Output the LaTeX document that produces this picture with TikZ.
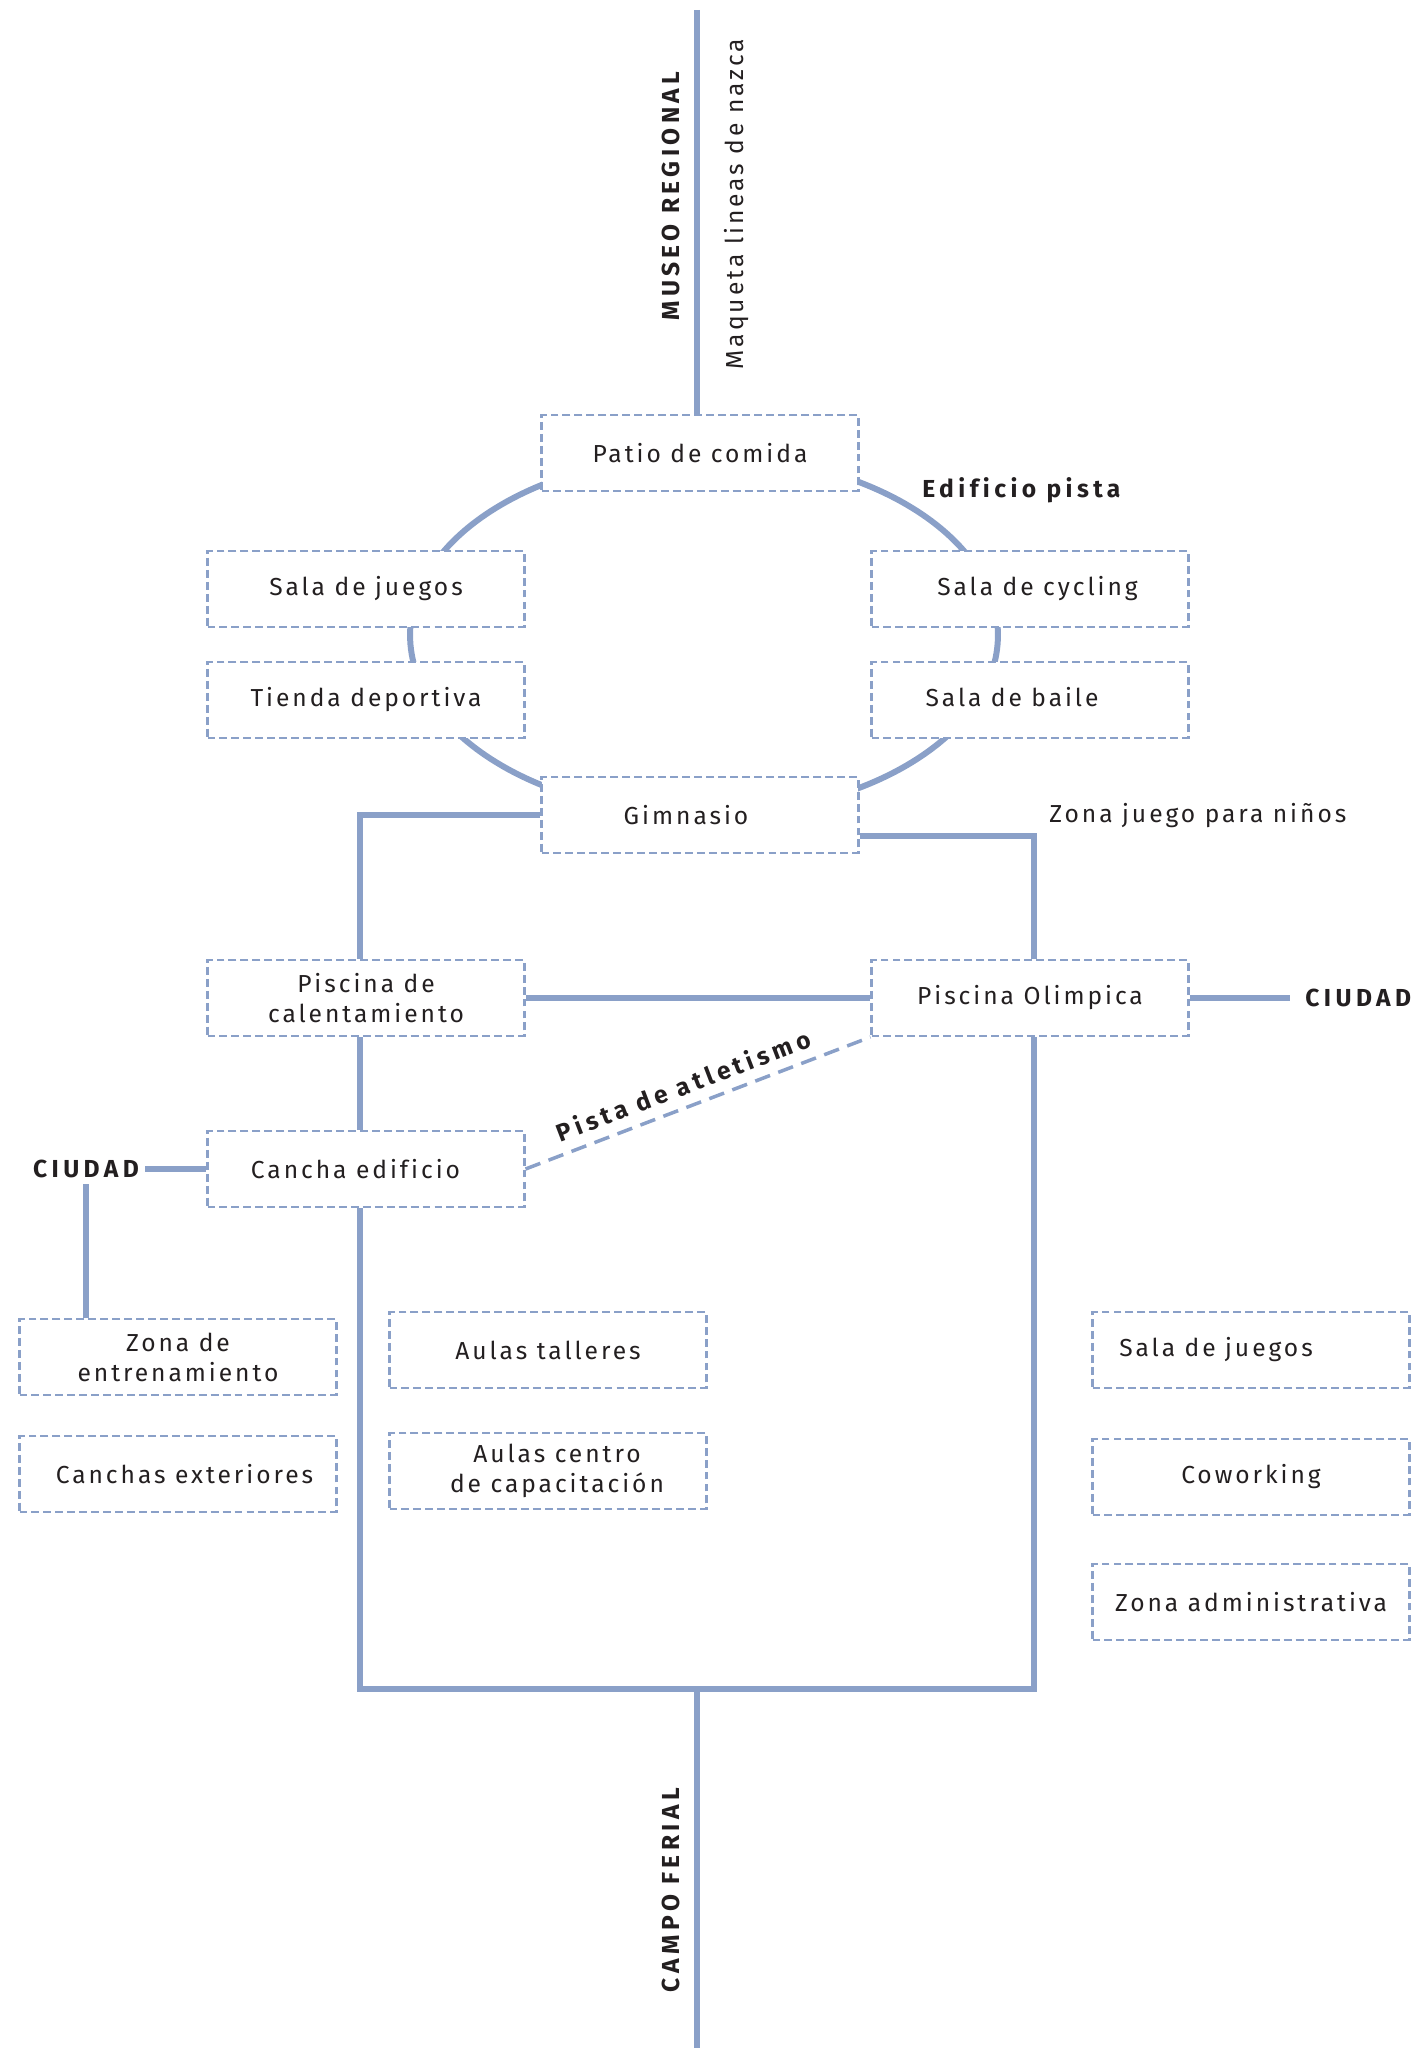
\documentclass[tikz,border=0pt]{standalone}
\usepackage{fontspec}
\setmainfont{Fira Sans}[LetterSpace=12, Ligatures=NoCommon]
\newfontfamily\tagfont{Fira Sans}[LetterSpace=18, Ligatures=NoCommon]
\usetikzlibrary{backgrounds}
\definecolor{ruta}{RGB}{138,160,200}
\definecolor{tinta}{RGB}{35,31,32}

\begin{document}
\begin{tikzpicture}[x=0.02cm, y=-0.02cm,
    every node/.style={text=tinta, font=\fontsize{14}{17}\selectfont},
    room/.style={draw=ruta, line width=1.2pt, dash pattern=on 4.5pt off 2.3pt,
      fill=white, minimum width=6.34cm, minimum height=1.52cm,
      align=center, inner sep=0pt},
    tag/.style={font=\fontsize{14}{17}\selectfont\tagfont\bfseries, inner sep=0pt},
    link/.style={draw=ruta, line width=3.4pt},
    track/.style={draw=ruta, line width=2pt, dash pattern=on 9pt off 5pt}]
  \useasboundingbox (0,0) rectangle (1417,2048);

  % edificio pista
  \node[room] (patio) at (700,453) {Patio de comida};
  \node[room] (juegos) at (366,589) {Sala de juegos};
  \node[room] (tienda) at (366,700) {Tienda deportiva};
  \node[room] (cycling) at (1030,589) {\hspace*{0.3cm}Sala de cycling};
  \node[room] (baile) at (1030,700) {\raisebox{3pt}{Sala de baile}\hspace*{0.72cm}};
  \node[room] (gimnasio) at (700,815) {Gimnasio\hspace*{0.56cm}};

  % piscinas y canchas
  \node[room] (calent) at (366,998) {Piscina de\\calentamiento};
  \node[room] (olimpica) at (1030,998) {Piscina Olimpica};
  \node[room] (cancha) at (366,1169) {Cancha edificio\hspace*{0.42cm}};
  \node[room] (entrena) at (178,1357) {Zona de\\entrenamiento};
  \node[room] (exteriores) at (178,1474) {\hspace*{0.26cm}Canchas exteriores};
  \node[room] (talleres) at (548,1350) {Aulas talleres};
  \node[room] (capacita) at (548,1471) {\hspace*{0.36cm}Aulas centro\\\hspace*{0.36cm}de capacitación};
  \node[room] (juegosb) at (1251,1350) {Sala de juegos\hspace*{1.4cm}};
  \node[room] (cowork) at (1251,1477) {Coworking};
  \node[room] (admin) at (1251,1602) {Zona administrativa};

  % rotulos
  \node[tag, rotate=90] (museo) at (671,196) {MUSEO REGIONAL};
  \node[rotate=90, inner sep=0pt] (maqueta) at (737,204) {Maqueta lineas de nazca};
  \node[tag, rotate=90] (campo) at (671,1890) {CAMPO FERIAL};
  \node[tag, anchor=west] (pista) at (922,490) {Edificio pista};
  \node[anchor=west, inner sep=0pt] (ninos) at (1049,816) {Zona juego para niños};
  \node[tag, anchor=west, inner sep=0.3cm] (ciudadr) at (1290,998) {CIUDAD};
  \node[tag, inner sep=0.12cm] (ciudadl) at (86,1169) {CIUDAD};

  \coordinate (norte) at (697,10);
  \coordinate (cierre) at (697,1689);
  \coordinate (sur) at (697,2048);

  \begin{pgfonlayer}{background}
    \draw[link] (704,635) ellipse [x radius=5.88cm, y radius=3.6cm];
  \end{pgfonlayer}

  \draw[link] (norte) -- (norte |- patio.north);
  \draw[link] (gimnasio.west) -| ([xshift=-0.12cm]calent.north);
  \draw[link] ([yshift=-0.42cm]gimnasio.east) -| ([xshift=0.08cm]olimpica.north);
  \draw[link] (calent.east) -- (olimpica.west);
  \draw[link] (olimpica.east) -- (ciudadr.west);
  \draw[link] ([xshift=-0.12cm]calent.south) -- ([xshift=-0.12cm]cancha.north);
  \draw[link] (ciudadl.east) -- (cancha.west);
  \draw[link] (ciudadl.south) -- (ciudadl.south |- entrena.north);
  \draw[link] ([xshift=-0.12cm]cancha.south) |- (cierre) -| ([xshift=0.08cm]olimpica.south);
  \draw[link] (cierre) -- (sur);
  \draw[track] (cancha.east) -- (olimpica.south west)
    node[tag, pos=0.48, sloped, above, inner sep=0.2cm] {Pista de atletismo};
\end{tikzpicture}
\end{document}
